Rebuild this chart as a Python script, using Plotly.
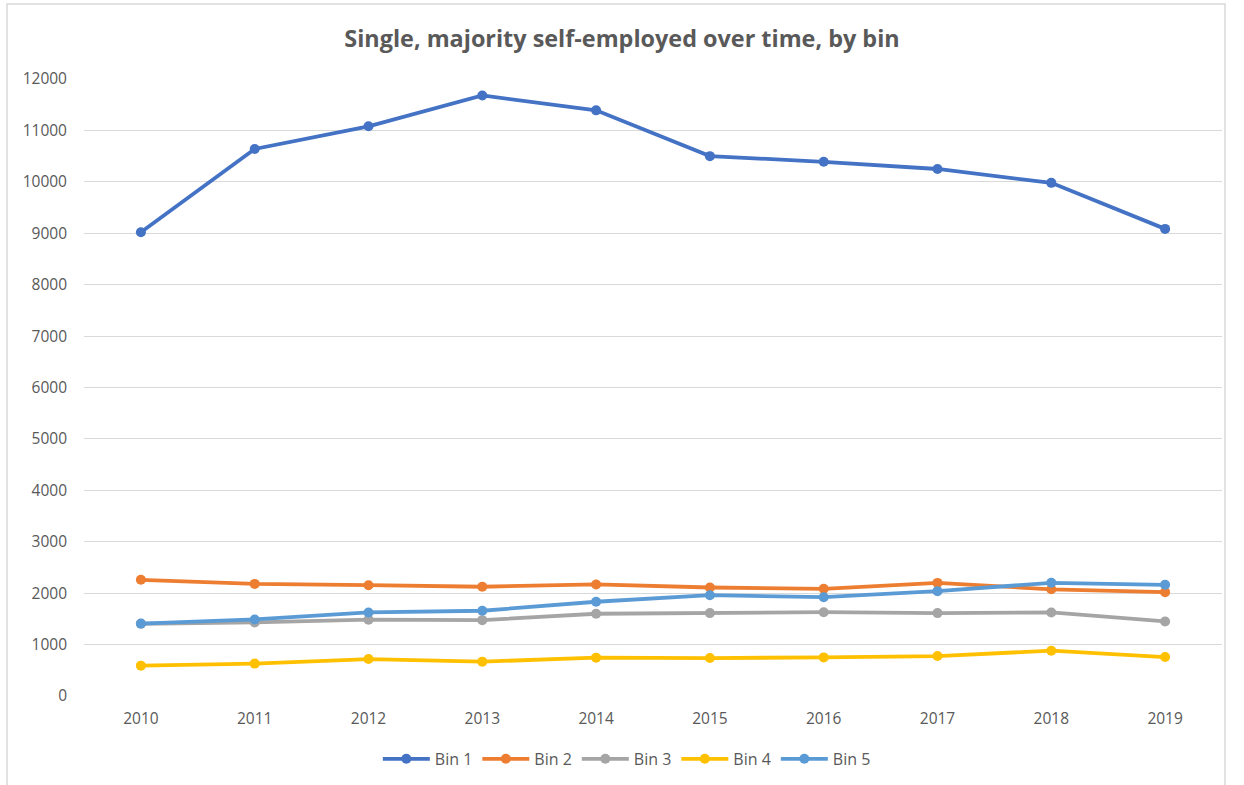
import plotly.graph_objects as go

years = ["2010", "2011", "2012", "2013", "2014", "2015", "2016", "2017", "2018", "2019"]
bin1 = [9020, 10640, 11080, 11680, 11390, 10500, 10390, 10250, 9980, 9085]
bin2 = [2260, 2180, 2155, 2125, 2170, 2110, 2085, 2200, 2075, 2020]
bin3 = [1405, 1430, 1485, 1475, 1600, 1612, 1630, 1612, 1625, 1450]
bin4 = [590, 630, 718, 668, 746, 738, 751, 777, 881, 757]
bin5 = [1408, 1489, 1625, 1658, 1833, 1961, 1922, 2039, 2202, 2163]

series = [
    ("Bin 1", bin1, "#4472C4"),
    ("Bin 2", bin2, "#ED7D31"),
    ("Bin 3", bin3, "#A5A5A5"),
    ("Bin 4", bin4, "#FFC000"),
    ("Bin 5", bin5, "#5B9BD5"),
]

fig = go.Figure()
for name, vals, color in series:
    fig.add_trace(go.Scatter(
        x=years, y=vals, name=name, mode="lines+markers",
        line=dict(color=color, width=3.8),
        marker=dict(color=color, size=10),
    ))

font_family = "Open Sans, Liberation Sans, sans-serif"
fig.update_layout(
    width=1244, height=785,
    paper_bgcolor="white", plot_bgcolor="white",
    margin=dict(l=84, r=22, t=79, b=89, autoexpand=False),
    font=dict(family=font_family, color="#595959", size=15),
    title=dict(
        text="<b>Single, majority self-employed over time, by bin</b>",
        x=0.5, xanchor="center", y=0.951, yanchor="middle",
        font=dict(size=23.4, color="#595959", family=font_family),
    ),
    xaxis=dict(
        type="category", range=[-0.5, len(years) - 0.5],
        showgrid=False, zeroline=False, automargin=False,
        showline=False, ticks="", ticklabelstandoff=11,
        tickfont=dict(size=15.5, color="#595959"),
    ),
    yaxis=dict(
        range=[0, 12000], dtick=1000, tick0=0, automargin=False,
        showgrid=True, gridcolor="#D9D9D9", gridwidth=1.3,
        zeroline=False, showline=False, ticks="",
        ticklabelstandoff=16, tickformat="d",
        tickfont=dict(size=15.5, color="#595959"),
    ),
    legend=dict(
        orientation="h", x=0.477, xanchor="center", y=-0.102, yanchor="middle",
        font=dict(size=16, color="#595959"), itemwidth=47,
        traceorder="normal",
    ),
    showlegend=True,
)

# Chart-area frame
fig.add_shape(
    type="rect", xref="paper", yref="paper",
    x0=(7 - 84) / 1138, x1=(1225 - 84) / 1138,
    y0=-0.16, y1=(696 - 4) / 617,
    line=dict(color="#D9D9D9", width=1.5), fillcolor="rgba(0,0,0,0)",
    layer="below",
)

fig.write_html("out.html")
